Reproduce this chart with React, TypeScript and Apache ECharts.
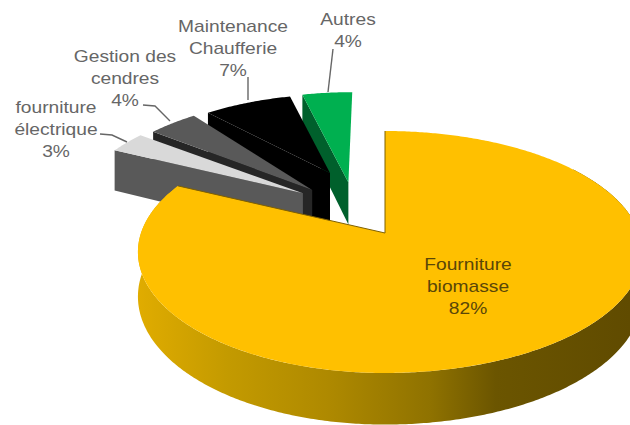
import React, { useEffect, useRef } from "react";
import * as echarts from "echarts";

const names = [
  "Fourniture\nbiomasse",
  "fourniture\nélectrique",
  "Gestion des\ncendres",
  "Maintenance\nChaufferie",
  "Autres",
];
const values = [82, 3, 4, 7, 4];
const topColors = ["#FFC000", "#D9D9D9", "#595959", "#000000", "#00B050"];
const sideColors = ["#7F6000", "#595959", "#262626", "#000000", "#00602C"];
const drawOrder = [4, 3, 2, 1, 0];

// pie geometry (perspective view of a tilted disc)
const OX = 358, OY = 206, AX = 237, BY = 111, K = 0.1525, DEPTH = 43.5, EXPLODE = 0.23;
const shifts = [[0, 0], [-2, 0], [3, 0], [3, 1], [0, 1]];
const apexAdjust = [[0, 0], [-7, 0], [-10, 1], [-7, -12], [-3, 0]];
const faceExtra = [0, 0, 0, 14, 0];
// the large slice is seen around its own apex
const BIG_X = 385, BIG_Y = 233, BIG_A_LEFT = 244, BIG_A_RIGHT = 254, BIG_B = 118, BIG_K = 0.157;
const labelAt = [[468, 287], [56, 130], [125, 79], [233, 49], [348, 31]];
const labelColor = ["#5A4608", "#666666", "#666666", "#666666", "#666666"];
const leaders = [
  null,
  [[100, 134], [112, 135], [127, 142]],
  [[143, 105], [155, 106], [170, 121]],
  [[248, 77], [248, 100]],
  [[333, 49], [328, 92]],
];

const total = values.reduce((a, b) => a + b, 0);
const rad = (v: number) => (v / total) * Math.PI * 2;

function renderItem(_params: any, api: any) {
  const i = api.value(0);
  const val = api.value(1);
  let before = 0;
  for (let j = 0; j < i; j++) before += values[j];
  const a0 = rad(before);
  const a1 = a0 + rad(val);
  const mid = (a0 + a1) / 2;
  const big = i === 0;
  const cu = big ? 0 : EXPLODE * Math.sin(mid);
  const cv = big ? 0 : -EXPLODE * Math.cos(mid);
  const [sx, sy] = shifts[i];
  const proj = (u: number, v: number, lift: number) => {
    const d = 1 - (big ? BIG_K : K) * v;
    const x = big
      ? BIG_X + ((u < 0 ? BIG_A_LEFT : BIG_A_RIGHT) * u) / d
      : OX + sx + (AX * u) / d;
    const y = big ? BIG_Y + (BIG_B * v) / d : OY + sy + (BY * v) / d;
    return [x, y + (lift * DEPTH) / d];
  };
  const rim = (a: number, lift: number) => proj(cu + Math.sin(a), cv - Math.cos(a), lift);
  const arc = (from: number, to: number, lift: number) => {
    const n = Math.max(2, Math.ceil(Math.abs(to - from) / 0.01));
    const pts: number[][] = [];
    for (let s = 0; s <= n; s++) pts.push(rim(from + ((to - from) * s) / n, lift));
    return pts;
  };
  const [ax, ay] = apexAdjust[i];
  const moved = (p: number[]) => [p[0] + ax, p[1] + ay];
  const apexTop = moved(proj(cu, cv, 0));
  const apexBot = moved(proj(cu, cv, 1));
  apexBot[1] += faceExtra[i];
  const rimBot = rim(a0, 1);
  rimBot[1] += faceExtra[i];
  const children: any[] = [];
  if (big) {
    const upper = arc(Math.PI * 0.3, a1, 0);
    const lower = arc(a1, Math.PI * 0.3, 1);
    children.push({
      type: "polygon",
      shape: { points: [...upper, ...lower] },
      style: {
        fill: new echarts.graphic.LinearGradient(0, 0, 1, 0, [
          { offset: 0, color: "#E0AC00" },
          { offset: 0.18, color: "#C39A00" },
          { offset: 0.38, color: "#AE8900" },
          { offset: 0.58, color: "#8F7200" },
          { offset: 0.71, color: "#6B5500" },
          { offset: 1, color: "#5F4A00" },
        ]),
      },
    });
  } else {
    children.push({
      type: "polygon",
      shape: { points: [rim(a0, 0), apexTop, apexBot, rimBot] },
      style: { fill: sideColors[i] },
    });
  }
  children.push({
    type: "polygon",
    shape: { points: [apexTop, ...arc(a0, a1, 0)] },
    style: { fill: topColors[i] },
  });
  if (big) {
    children.push({
      type: "polyline",
      shape: { points: [rim(a0, 0), apexTop, rim(a1, 0)] },
      style: { fill: null, stroke: sideColors[0], lineWidth: 1 },
    });
  }
  const leader = leaders[i];
  if (leader) {
    children.push({
      type: "polyline",
      shape: { points: leader },
      style: { fill: null, stroke: "#666666", lineWidth: 1.4 },
    });
  }
  children.push({
    type: "text",
    x: labelAt[i][0],
    y: labelAt[i][1],
    scaleX: 1.2,
    style: {
      x: 0,
      y: 0,
      text: `${names[i]}\n${Math.round((val / total) * 100)}%`,
      fontFamily: "Liberation Sans",
      fontSize: 16,
      lineHeight: 22,
      fill: labelColor[i],
      align: "center",
      verticalAlign: "middle",
    },
  });
  return { type: "group", children };
}

export default function App() {
  const ref = useRef<HTMLDivElement>(null);
  useEffect(() => {
    document.body.style.margin = "0";
    const chart = echarts.init(ref.current!, null, { renderer: "svg" });
    chart.setOption({
      animation: false,
      backgroundColor: "#FFFFFF",
      series: [
        {
          type: "custom",
          coordinateSystem: "none",
          silent: true,
          clip: false,
          renderItem,
          data: drawOrder.map((i) => [i, values[i]]),
        },
      ],
    });
    return () => chart.dispose();
  }, []);
  return <div ref={ref} style={{ width: 630, height: 425 }} />;
}
